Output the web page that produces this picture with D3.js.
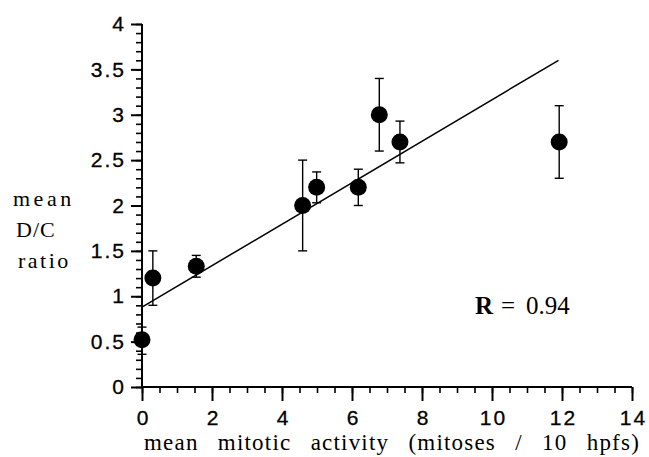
<!DOCTYPE html>
<html lang="en">
<head>
    <meta charset="UTF-8">
    <title>Mean D/C ratio vs mitotic activity</title>
    <script src="https://d3js.org/d3.v7.min.js"></script>
    <style>
        body { margin: 0; background: #fff; }
        svg { display: block; }
        .tick text { font-family: "Liberation Sans", Arial, sans-serif; font-size: 21px; letter-spacing: 2px; fill: #000; stroke: #000; stroke-width: 0.3px; }
        .serif { font-family: "Liberation Serif", "Times New Roman", serif; fill: #000; }
    </style>
</head>
<body>
    <script>
    // values
    const activity = [0, 0.31, 1.55, 4.59, 4.99, 6.18, 6.78, 7.37, 11.92];
    const ratio    = [0.52, 1.2, 1.33, 2.0, 2.2, 2.2, 3.0, 2.7, 2.7];
    const errUp    = [0.14, 0.3, 0.12, 0.5, 0.17, 0.2, 0.4, 0.23, 0.4];
    const errDown  = [0.16, 0.3, 0.12, 0.5, 0.17, 0.2, 0.4, 0.23, 0.4];
    const fitX = [0, 11.9];
    const fitY = [0.88, 3.6];
    const xTicks = [0, 2, 4, 6, 8, 10, 12, 14];
    const yTicks = [0, 0.5, 1, 1.5, 2, 2.5, 3, 3.5, 4];

    const width = 649, height = 457;

    const svg = d3.select("body").append("svg")
      .attr("width", width)
      .attr("height", height);

    const x = d3.scaleLinear().domain([0, 14]).range([142, 632]);
    const y = d3.scaleLinear().domain([0, 4]).range([387, 24]);

    // minor ticks
    svg.append("g")
      .attr("transform", `translate(0,${y(0)})`)
      .call(d3.axisBottom(x).tickValues(d3.range(0, 14.01, 0.5)).tickSize(6).tickFormat(""))
      .call(g => g.select(".domain").remove())
      .selectAll("line").attr("stroke-width", 1.6);

    svg.append("g")
      .attr("transform", `translate(${x(0)},0)`)
      .call(d3.axisLeft(y).tickValues(d3.range(0, 4.001, 0.1)).tickSize(6).tickFormat(""))
      .call(g => g.select(".domain").remove())
      .selectAll("line").attr("stroke-width", 1.6);

    // major ticks + labels
    const xAxis = svg.append("g")
      .attr("transform", `translate(0,${y(0)})`)
      .call(d3.axisBottom(x).tickValues(xTicks).tickSize(14).tickSizeOuter(0).tickPadding(9).tickFormat(d => d));
    xAxis.select(".domain").attr("stroke-width", 2).attr("d", `M${x(0)},0H${x(14)}`);
    xAxis.selectAll("line").attr("stroke-width", 2);
    xAxis.selectAll("text").attr("dx", "1px");

    const yAxis = svg.append("g")
      .attr("transform", `translate(${x(0)},0)`)
      .call(d3.axisLeft(y).tickValues(yTicks).tickSize(11).tickSizeOuter(0).tickPadding(5).tickFormat(d => d));
    yAxis.select(".domain").attr("stroke-width", 2).attr("d", `M0,${y(0)}V${y(4)}`);
    yAxis.selectAll("line").attr("stroke-width", 2);

    // regression line
    svg.append("line")
      .attr("x1", x(fitX[0])).attr("y1", y(fitY[0]))
      .attr("x2", x(fitX[1])).attr("y2", y(fitY[1]))
      .attr("stroke", "#000")
      .attr("stroke-width", 1.5);

    const pts = activity.map((a, i) => ({ a, r: ratio[i], up: errUp[i], down: errDown[i] }));

    // error bars
    const eb = svg.append("g").attr("stroke", "#000").attr("stroke-width", 1.4);
    eb.selectAll("line.v").data(pts).join("line").attr("class", "v")
      .attr("x1", d => x(d.a)).attr("x2", d => x(d.a))
      .attr("y1", d => y(d.r + d.up)).attr("y2", d => y(d.r - d.down));
    eb.selectAll("line.t").data(pts).join("line").attr("class", "t")
      .attr("x1", d => x(d.a) - 4.5).attr("x2", d => x(d.a) + 4.5)
      .attr("y1", d => y(d.r + d.up)).attr("y2", d => y(d.r + d.up));
    eb.selectAll("line.b").data(pts).join("line").attr("class", "b")
      .attr("x1", d => x(d.a) - 4.5).attr("x2", d => x(d.a) + 4.5)
      .attr("y1", d => y(d.r - d.down)).attr("y2", d => y(d.r - d.down));

    // points
    svg.append("g").selectAll("circle").data(pts).join("circle")
      .attr("cx", d => x(d.a))
      .attr("cy", d => y(d.r))
      .attr("r", 8.5)
      .attr("fill", "#000");

    // x axis title, words spread to span the axis
    const xTitle = svg.append("text").attr("class", "serif")
      .attr("x", 144).attr("y", 450)
      .attr("font-size", 23)
      .attr("letter-spacing", "1.2px")
      .text("mean mitotic activity (mitoses / 10 hpfs)");
    const natural = xTitle.node().getComputedTextLength();
    xTitle.attr("word-spacing", Math.max(0, (496 - natural) / 6) + "px");

    const yTitle = [["mean", 13, 206, 3.5], ["D/C", 16, 237, 1], ["ratio", 18, 268, 2.5]];
    svg.append("g").selectAll("text").data(yTitle).join("text")
      .attr("class", "serif")
      .attr("x", d => d[1]).attr("y", d => d[2])
      .attr("font-size", 22)
      .attr("letter-spacing", d => d[3] + "px")
      .text(d => d[0]);

    // correlation
    const rt = svg.append("text").attr("class", "serif")
      .attr("y", 314)
      .attr("font-size", 25);
    rt.append("tspan").attr("x", 475).attr("font-weight", "bold").text("R");
    rt.append("tspan").attr("x", 501).text("=");
    rt.append("tspan").attr("x", 526).text("0.94");
    </script>
</body>
</html>
